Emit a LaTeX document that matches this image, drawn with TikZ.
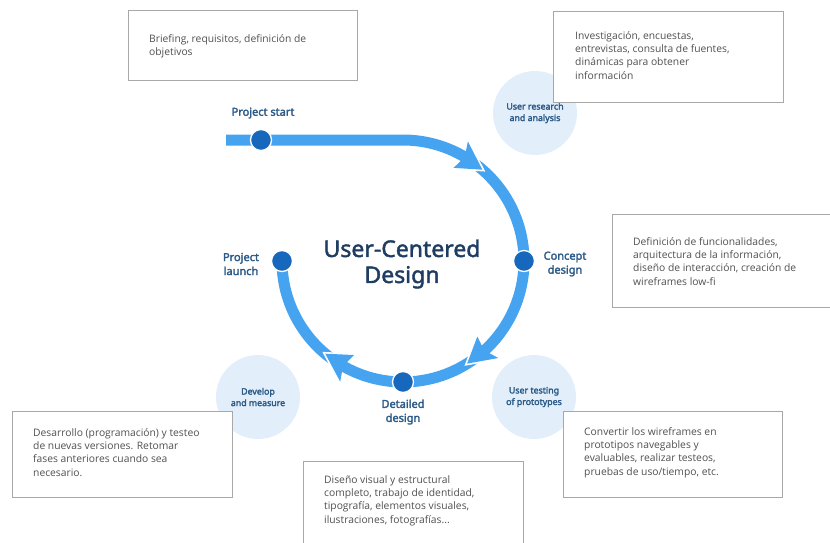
\documentclass[tikz,border=0pt]{standalone}
\usepackage{fontspec}
\setmainfont{Open Sans}
\newfontfamily\lblfont{Noto Sans}[FakeBold=2.6]
\newfontfamily\titlefont{Noto Sans}[FakeBold=1.8]
\usetikzlibrary{calc}
\definecolor{bar}{HTML}{45A3F0}
\definecolor{dotc}{HTML}{1767BD}
\definecolor{pale}{HTML}{E2EFFB}
\definecolor{lbl}{HTML}{2D5B88}
\definecolor{ttl}{HTML}{1F3D63}
\definecolor{boxtxt}{HTML}{505050}
\definecolor{boxline}{HTML}{A8A8A8}
\tikzset{
  infobox/.style={draw=boxline, line width=1pt, fill=white},
  boxtext/.style={anchor=north west, inner sep=0pt, align=left, font=\fontsize{10.3}{13.4}\selectfont, text=boxtxt},
  stage/.style={font=\lblfont\fontsize{11}{14}\selectfont, text=lbl, align=center, inner sep=0pt},
  bubble/.style={circle, fill=pale, minimum size=84pt, inner sep=0pt, font=\lblfont\fontsize{8.8}{11.5}\selectfont, text=lbl, align=center},
  dotst/.style={circle, fill=dotc, draw=white, line width=1.3pt, minimum size=21pt, inner sep=0pt},
  flow/.style={draw=bar, line width=11pt},
  headedge/.style={draw=white, line width=3.4pt, line join=miter},
  headst/.style={fill=bar}
}
\newcommand\headat[1]{%
  \draw[headedge] ($(c)+(#1+12.5:136)$) -- ($(c)+(#1:121)$) -- ($(c)+(#1+12.5:106)$);
  \fill[headst] ($(c)+(#1:121)$) -- ($(c)+(#1+12.5:136)$) -- ($(c)+(#1+10.3:121)$) -- ($(c)+(#1+12.5:106)$) -- cycle;}
\begin{document}
\begin{tikzpicture}[x=1pt,y=1pt]
\useasboundingbox (0,0) rectangle (830,-542);
\coordinate (c) at (403,-261);
\coordinate (s) at (226,-140);
\coordinate (top) at (403,-140);
% bubbles
\node[bubble] (b1) at (535,-113) {User research\\and analysis};
\node[bubble] (b2) at (534,-397) {User testing\\of prototypes};
\node[bubble] (b3) at (258,-397) {Develop\\and measure};
% boxes
\draw[infobox] (128,-10) rectangle (357,-80);
\node[boxtext] (t1) at (149,-34) {Briefing, requisitos, definición de\\objetivos};
\draw[infobox] (553,-11) rectangle (783,-102);
\node[boxtext] (t2) at (575,-31) {Investigación, encuestas,\\entrevistas, consulta de fuentes,\\dinámicas para obtener\\información};
\draw[infobox] (612,-214) rectangle (834,-307);
\node[boxtext] (t3) at (633,-237) {Definición de funcionalidades,\\arquitectura de la información,\\diseño de interacción, creación de\\wireframes low-fi};
\draw[infobox] (563,-411) rectangle (782,-497);
\node[boxtext] (t4) at (584,-427) {Convertir los wireframes en\\prototipos navegables y\\evaluables, realizar testeos,\\pruebas de uso/tiempo, etc.};
\draw[infobox] (303,-461) rectangle (523,-560);
\node[boxtext] (t5) at (324,-475) {Diseño visual y estructural\\completo, trabajo de identidad,\\tipografía, elementos visuales,\\ilustraciones, fotografías...};
\draw[infobox] (12,-411) rectangle (232,-497);
\node[boxtext] (t6) at (33,-428) {Desarrollo (programación) y testeo\\de nuevas versiones. Retomar\\fases anteriores cuando sea\\necesario.};
% flow
\draw[flow] (s) -- (top) arc[start angle=90, end angle=58, radius=121];
\draw[flow] ($(c)+(58:121)$) arc[start angle=58, end angle=-49, radius=121];
\draw[flow] ($(c)+(-49:121)$) arc[start angle=-49, end angle=-121, radius=121];
\draw[flow] ($(c)+(-121:121)$) arc[start angle=-121, end angle=-180, radius=121];
\headat{49}
\headat{-58}
\headat{-130}
% dots
\node[dotst] (pstart) at (261,-140) {};
\node[dotst] (concept) at ($(c)+(0:121)$) {};
\node[dotst] (detailed) at ($(c)+(-90:121)$) {};
\node[dotst] (launch) at ($(c)+(180:121)$) {};
% labels
\node[stage] (lstart) at (263,-113) {Project start};
\node[stage] (llaunch) at (241,-264) {Project\\launch};
\node[stage] (lconcept) at (565,-264) {Concept\\design};
\node[stage] (ldetailed) at (403,-412) {Detailed\\design};
\node[font=\titlefont\fontsize{23}{26}\selectfont, text=ttl, align=center, inner sep=0pt] (title) at (402,-264) {User-Centered\\Design};
\end{tikzpicture}
\end{document}
